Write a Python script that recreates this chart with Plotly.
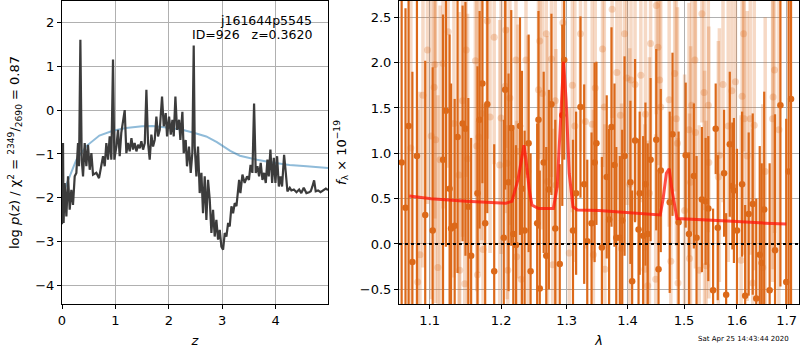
import plotly.graph_objects as go

# ---------------- left panel: log p(z) ----------------
z_grid = [0.0, 0.007, 0.019, 0.03, 0.05, 0.082, 0.113, 0.144, 0.175, 0.206,
          0.238, 0.269, 0.30, 0.319, 0.344, 0.369, 0.394, 0.425, 0.456, 0.487,
          0.519, 0.55, 0.581, 0.643, 0.693, 0.737, 0.768, 0.80, 0.83, 0.862,
          0.893, 0.924, 0.955, 0.98, 1.018, 1.049, 1.08, 1.11, 1.143, 1.174,
          1.205, 1.236, 1.268, 1.30, 1.33, 1.36, 1.393, 1.424, 1.455, 1.486,
          1.518, 1.55, 1.58, 1.611, 1.642, 1.673, 1.705, 1.736, 1.767, 1.798,
          1.83, 1.873, 1.905, 1.942, 1.967, 2.005, 2.036, 2.067, 2.092, 2.123,
          2.154, 2.192, 2.216, 2.254, 2.279, 2.316, 2.34, 2.378, 2.41, 2.44,
          2.466, 2.485, 2.516, 2.547, 2.578, 2.61, 2.64, 2.672, 2.703, 2.734,
          2.766, 2.797, 2.828, 2.859, 2.89, 2.922, 2.953, 2.984, 3.016, 3.047,
          3.078, 3.11, 3.14, 3.172, 3.203, 3.234, 3.266, 3.316, 3.34, 3.378,
          3.42, 3.465, 3.50, 3.53, 3.565, 3.596, 3.627, 3.659, 3.69, 3.72,
          3.753, 3.784, 3.815, 3.846, 3.871, 3.902, 3.934, 3.965, 3.996, 4.027,
          4.06, 4.09, 4.12, 4.158, 4.19, 4.22, 4.264, 4.295, 4.34, 4.39,
          4.44, 4.48, 4.526, 4.576, 4.626, 4.657, 4.688, 4.72, 4.75, 4.795,
          4.84, 4.89, 4.94, 4.98]
logp = [-2.6, -2.50, -0.75, -2.57, -1.66, -2.42, -1.51, -2.27, -1.815, -2.16,
        -1.51, -1.43, -0.75, -1.28, 1.60, -1.13, -1.51, -0.75, -1.28, -0.79,
        -1.36, -0.98, -1.47, -1.43, -1.55, -1.28, -1.05, -1.28, -0.75, -1.13,
        -0.60, -1.13, 1.15, -1.13, -0.83, -0.45, -1.05, -0.52, -0.22, 0.00,
        -0.98, -0.75, -0.94, -0.64, -0.90, -0.75, -0.94, -0.79, -0.87, -0.71,
        -0.90, -0.75, 0.46, -0.75, -1.13, -0.56, -0.83, -0.68, -0.15, -0.60,
        -0.45, 0.31, -0.37, -0.07, -0.60, -0.15, -0.56, -0.22, -0.60, 0.31,
        -0.45, -0.22, -0.68, -0.04, -0.98, -0.68, -1.28, -0.83, -1.43, -0.98,
        1.47, -0.83, -1.51, -0.83, -1.89, -1.43, -2.35, -1.51, -2.50, -1.59,
        -2.04, -2.80, -2.27, -2.88, -2.50, -2.95, -2.73, -3.11, -3.18, -2.80,
        -2.88, -2.57, -2.65, -2.19, -2.35, -2.12, -2.19, -1.59, -1.89, -1.47,
        -1.66, -1.51, -1.59, -1.25, -1.43, 0.15, -1.43, -1.28, -1.51, -1.20,
        -1.59, -1.43, -1.66, -1.13, -1.51, -0.90, -1.66, -1.09, -1.66, -1.05,
        -1.74, -1.51, -1.74, -1.02, -1.43, -1.85, -1.77, -1.83, -1.81, -1.87,
        -1.81, -1.89, -1.77, -1.89, -1.87, -1.85, -1.74, -1.60, -1.85, -1.83,
        -1.87, -1.83, -1.79, -1.82]

z_chi = [0.0, 0.05, 0.144, 0.269, 0.456, 0.7, 0.95, 1.2, 1.5, 1.7, 2.0, 2.25,
         2.45, 2.7, 2.9, 3.016, 3.15, 3.33, 3.5, 3.65, 3.96, 4.26, 4.58, 4.98]
chi_curve = [-2.0, -1.8, -1.51, -1.13, -0.82, -0.58, -0.47, -0.41, -0.37, -0.36,
             -0.40, -0.45, -0.51, -0.60, -0.73, -0.82, -0.93, -1.04, -1.09,
             -1.13, -1.20, -1.25, -1.28, -1.32]

# ---------------- right panel: spectrum ----------------
dark_lam = [1.063, 1.068, 1.072, 1.077, 1.083, 1.094, 1.104, 1.118, 1.122, 1.127,
            1.129, 1.134, 1.138, 1.145, 1.149, 1.153, 1.157, 1.166, 1.169, 1.173,
            1.177, 1.180, 1.190, 1.204, 1.206, 1.211, 1.215, 1.218, 1.222, 1.228,
            1.231, 1.235, 1.241, 1.244,
            1.254, 1.256, 1.258, 1.264, 1.268, 1.272, 1.276, 1.282, 1.289, 1.293,
            1.296, 1.310, 1.315, 1.322, 1.328, 1.333, 1.340, 1.345, 1.348, 1.357,
            1.365, 1.369, 1.373, 1.378, 1.381, 1.387, 1.391, 1.395, 1.405, 1.408,
            1.413, 1.419, 1.421, 1.427, 1.431, 1.435, 1.440, 1.450, 1.454, 1.458,
            1.474, 1.479, 1.490, 1.503, 1.509, 1.518, 1.523, 1.533, 1.540, 1.545,
            1.554, 1.559, 1.563, 1.575, 1.579, 1.586, 1.591, 1.594, 1.600, 1.610,
            1.616, 1.623, 1.631, 1.638, 1.645, 1.649, 1.654, 1.665, 1.676, 1.687,
            1.699, 1.704, 1.709]
dark_flux = [0.9, 0.4, 1.3, -0.2, 0.97, 0.32, 0.15, 0.93, 1.47, 0.61,
             0.17, 0.20, 1.18, 1.33, 1.27, 0.41, -0.13, 0.56, 1.37, 1.77,
             0.23, 1.54, -0.30, 0.07, 1.70, 0.68, 1.28, 0.11, -0.01, 1.30,
             0.61, 0.15, 1.11, -0.30,
             0.23, 1.37, -0.49, 0.90, -0.13, 0.60, 1.54, 0.17, -0.22, 1.42,
             2.03, 0.15, 0.56, 1.51, 0.66, 0.03, 0.23, 0.90, 1.11, -0.04,
             0.74, 0.27, 1.29, 0.87, 0.07, 0.07, 0.26, 0.97, 0.68, -0.41,
             1.14, 0.16, 0.56, 0.09, 0.66, 0.11, 0.93, 1.15, -0.28, 0.81,
             0.46, 1.21, 0.24, 0.98, 0.11, 0.75, 0.07, 0.49, 0.47, 0.39,
             -0.51, 1.27, 0.18, 0.78, -0.56, 1.10, 0.64, 0.59, 0.15, 0.66,
             -0.57, 0.33, 0.44, -0.60, -0.12, -0.21, 0.38, -0.51, -0.07, 1.53,
             -0.42, 0.8, 1.6]
dark_err = [2.5, 2.2, 2.4, 2.1, 1.9, 1.7, 1.8, 1.6, 1.5, 1.7,
            1.6, 1.4, 1.5, 1.3, 1.4, 1.2, 1.3, 1.4, 1.2, 1.1,
            1.3, 1.2, 1.4, 1.3, 1.1, 1.2, 1.3, 1.2, 1.1, 1.2,
            1.3, 1.1, 1.2, 1.3,
            1.1, 1.2, 1.3, 1.0, 1.2, 1.1, 1.0, 1.2, 1.1, 1.0,
            1.1, 1.0, 0.9, 1.0, 1.1, 0.9, 1.0, 1.1, 0.9, 1.0,
            0.9, 1.0, 1.1, 0.9, 1.0, 0.9, 1.0, 1.1, 0.9, 1.0,
            0.9, 1.0, 0.9, 1.1, 0.9, 1.0, 0.9, 1.0, 1.1, 0.9,
            1.0, 0.9, 1.0, 0.8, 0.9, 0.8, 0.9, 0.8, 0.7, 0.8,
            0.9, 0.5, 0.8, 0.7, 0.9, 0.8, 0.7, 0.8, 0.9, 0.8,
            1.0, 0.9, 1.0, 1.1, 1.2, 1.1, 1.3, 1.4, 1.5, 2.0,
            1.8, 2.2, 2.5]

light_lam = [1.075, 1.084, 1.087, 1.091, 1.097, 1.102, 1.106, 1.107, 1.108, 1.111,
             1.114, 1.118, 1.125, 1.133, 1.140, 1.141, 1.145, 1.148, 1.150, 1.152,
             1.163, 1.165, 1.166, 1.168, 1.172, 1.174, 1.180, 1.184, 1.190, 1.198,
             1.200, 1.206, 1.207, 1.209, 1.210, 1.213, 1.222, 1.223, 1.225, 1.230,
             1.237, 1.240, 1.256, 1.258, 1.262, 1.268, 1.270, 1.276, 1.278, 1.282,
             1.283, 1.294, 1.304, 1.309, 1.313, 1.322, 1.330, 1.341, 1.343, 1.346,
             1.358, 1.361, 1.362, 1.374, 1.382, 1.388, 1.390, 1.395, 1.399, 1.404,
             1.406, 1.413, 1.423, 1.430, 1.431, 1.435, 1.438, 1.440, 1.449, 1.450,
             1.453, 1.456, 1.458, 1.473, 1.476, 1.483, 1.486, 1.488, 1.489, 1.501,
             1.509, 1.510, 1.512, 1.514, 1.520, 1.521, 1.528, 1.533, 1.537, 1.538,
             1.541, 1.545, 1.546, 1.564, 1.566, 1.573, 1.583, 1.590, 1.597, 1.608,
             1.610, 1.613, 1.614, 1.620, 1.626, 1.631, 1.634, 1.651, 1.656, 1.671,
             1.672, 1.675, 1.684]
light_flux = [1.06, -0.42, -0.12, 1.64, 2.14, 1.19, 1.73, 1.98, 1.15, -0.26,
              0.93, 1.99, 2.34, 1.33, 0.76, -0.29, 1.58, -0.44, 2.14, 0.94,
              2.02, 1.08, -0.34, 1.18, 1.44, -0.06, 2.46, 1.40, 2.28, 0.87,
              1.39, 1.74, 2.36, 0.89, -0.29, 1.61, 2.03, -0.14, 1.02, -0.39,
              2.03, 0.80, 1.70, 2.24, 1.66, 2.32, 0.69, 2.04, -0.23, 1.58,
              0.65, 2.44, -0.10, 1.75, 1.30, 2.32, 1.35, 1.32, -0.12, 1.72,
              2.15, 1.51, -0.28, 2.59, 1.89, 1.42, -0.05, 2.32, 1.83, 0.66,
              1.81, 1.76, 1.86, -0.28, 1.43, -0.46, 0.56, 2.21, -0.39, 2.63,
              2.17, 1.81, 1.51, 1.59, -0.19, 1.88, 1.38, 1.11, -0.43, 0.37,
              1.26, -0.16, 0.68, 1.53, 2.03, 1.23, -0.29, 2.54, 1.67, 0.41,
              -0.24, 1.53, 0.90, 0.74, 0.98, 1.76, 1.30, 1.69, 1.79, -0.18,
              1.63, 2.32, 1.38, 0.97, 1.38, -0.43, 1.31, -0.26, 0.80, 1.38,
              1.62, 1.92, 1.26]
light_err = [2.0, 1.9, 1.8, 1.9, 1.7, 1.8, 1.6, 1.7, 1.8, 1.9,
             1.7, 1.6, 1.5, 1.7, 1.8, 1.6, 1.5, 1.7, 1.4, 1.6,
             1.5, 1.6, 1.7, 1.5, 1.4, 1.6, 1.3, 1.5, 1.4, 1.6,
             1.5, 1.4, 1.3, 1.5, 1.6, 1.4, 1.3, 1.5, 1.4, 1.6,
             1.3, 1.5, 1.4, 1.3, 1.5, 1.4, 1.6, 1.3, 1.5, 1.4,
             1.5, 1.3, 1.6, 1.4, 1.5, 1.3, 1.4, 1.5, 1.6, 1.4,
             1.3, 1.5, 1.6, 1.2, 1.4, 1.5, 1.6, 1.3, 1.4, 1.5,
             1.4, 1.5, 1.4, 1.6, 1.5, 1.6, 1.5, 1.3, 1.6, 1.2,
             1.3, 1.4, 1.5, 1.4, 1.6, 1.3, 1.4, 1.5, 1.6, 1.5,
             1.4, 1.6, 1.5, 1.4, 1.3, 1.5, 1.6, 1.2, 1.4, 1.5,
             1.6, 1.4, 1.5, 1.5, 1.4, 1.3, 1.5, 1.4, 1.3, 1.6,
             1.4, 1.3, 1.5, 1.6, 1.5, 1.7, 1.6, 1.8, 1.7, 1.8,
             1.9, 1.8, 2.0]

model_lam = [1.073, 1.102, 1.150, 1.173, 1.207, 1.216, 1.225, 1.234, 1.237, 1.242,
             1.246, 1.256, 1.279, 1.285, 1.290, 1.295, 1.299, 1.304, 1.310, 1.317,
             1.352, 1.408, 1.457, 1.462, 1.468, 1.473, 1.478, 1.487, 1.528, 1.591,
             1.656, 1.699]
model_flux = [0.53, 0.50, 0.47, 0.46, 0.45, 0.47, 0.71, 1.09, 0.93, 0.60,
              0.43, 0.39, 0.39, 0.63, 1.40, 2.01, 1.59, 0.78, 0.41, 0.375,
              0.37, 0.34, 0.32, 0.49, 0.78, 0.83, 0.60, 0.28, 0.27, 0.25,
              0.23, 0.22]

lam_ticks = [1.1, 1.2, 1.3, 1.4, 1.5, 1.6, 1.7]
flux_ticks = [-0.5, 0.0, 0.5, 1.0, 1.5, 2.0, 2.5]

ORANGE = "rgb(220,105,25)"
ORANGE_L = "rgba(220,105,25,0.25)"
FONT = "DejaVu Sans"

fig = go.Figure()

fig.add_trace(go.Scatter(x=z_chi, y=chi_curve, mode="lines",
                         line=dict(color="rgba(31,119,180,0.5)", width=2),
                         xaxis="x", yaxis="y", showlegend=False))
fig.add_trace(go.Scatter(x=z_grid, y=logp, mode="lines",
                         line=dict(color="rgb(60,60,60)", width=2.2),
                         xaxis="x", yaxis="y", showlegend=False))

fig.add_trace(go.Scatter(x=light_lam, y=light_flux, mode="markers",
                         marker=dict(color=ORANGE_L, size=7),
                         error_y=dict(type="data", array=light_err, color=ORANGE_L,
                                      thickness=3.5, width=0),
                         xaxis="x2", yaxis="y2", showlegend=False))
fig.add_trace(go.Scatter(x=dark_lam, y=dark_flux, mode="markers",
                         marker=dict(color=ORANGE, size=6.5),
                         error_y=dict(type="data", array=dark_err, color=ORANGE,
                                      thickness=2.2, width=0),
                         xaxis="x2", yaxis="y2", showlegend=False))
fig.add_trace(go.Scatter(x=model_lam, y=model_flux, mode="lines",
                         line=dict(color="rgba(255,20,10,0.75)", width=3),
                         xaxis="x2", yaxis="y2", showlegend=False))

axis_common = dict(showgrid=True, gridcolor="#b0b0b0", gridwidth=1,
                   showline=True, linecolor="black", linewidth=1, mirror=True,
                   ticks="outside", ticklen=4, tickcolor="black",
                   zeroline=False, automargin=False,
                   tickfont=dict(family=FONT, size=13, color="black"))

top = 1 - 1 / 350
bot = 1 - 304 / 350

fig.update_layout(
    width=800, height=350,
    margin=dict(l=0, r=0, t=0, b=0, autoexpand=False),
    paper_bgcolor="white", plot_bgcolor="white",
    font=dict(family=FONT, size=13, color="black"),
    xaxis=dict(domain=[62 / 800, 328 / 800], range=[0, 4.98],
               tickvals=[0, 1, 2, 3, 4], anchor="y",
               title=dict(text="<i>z</i>", standoff=9, font=dict(size=13)),
               **axis_common),
    yaxis=dict(domain=[bot, top], range=[-4.417, 2.485],
               tickvals=[-4, -3, -2, -1, 0, 1, 2], anchor="x",
               title=dict(text="log <i>p</i>(<i>z</i>) / χ<sup>2</sup> = "
                               "<sup>2349</sup>/<sub>2690</sub> = 0.87",
                          standoff=12, font=dict(size=13)),
               **axis_common),
    xaxis2=dict(domain=[399 / 800, 799 / 800], type="log",
                range=[0.02513, 0.23696], tickvals=lam_ticks,
                ticktext=[f"{v:.1f}" for v in lam_ticks], anchor="y2",
                title=dict(text="<i>λ</i>", standoff=9, font=dict(size=13)),
                **axis_common),
    yaxis2=dict(domain=[bot, top], range=[-0.662, 2.68],
                tickvals=flux_ticks,
                ticktext=[f"{v:.1f}".replace("-", "\u2212") for v in flux_ticks],
                anchor="x2",
                title=dict(text="<i>f</i><sub>λ</sub> × 10<sup>−19</sup>",
                           standoff=10, font=dict(size=13)),
                **axis_common),
)

fig.add_shape(type="line", xref="x2 domain", yref="y2", x0=0, x1=1, y0=0, y1=0,
              line=dict(color="black", width=2, dash="dot"))

fig.add_annotation(text="j161644p5545", xref="paper", yref="paper",
                   x=314 / 800, y=1 - 20 / 350, xanchor="right", yanchor="middle",
                   showarrow=False, font=dict(family=FONT, size=12.5, color="black"))
fig.add_annotation(text="ID=926\u00a0\u00a0\u00a0z=0.3620", xref="paper", yref="paper",
                   x=314 / 800, y=1 - 34 / 350, xanchor="right", yanchor="middle",
                   showarrow=False, font=dict(family=FONT, size=12.5, color="black"))
fig.add_annotation(text="Sat Apr 25 14:43:44 2020", xref="paper", yref="paper",
                   x=743 / 800, y=1 - 339 / 350, xanchor="center", yanchor="middle",
                   showarrow=False, font=dict(family=FONT, size=7, color="black"))

fig.write_html("out.html",
               config={"displayModeBar": False},
               post_script="document.body.style.margin='0px';"
                           "document.body.style.overflow='hidden';")
